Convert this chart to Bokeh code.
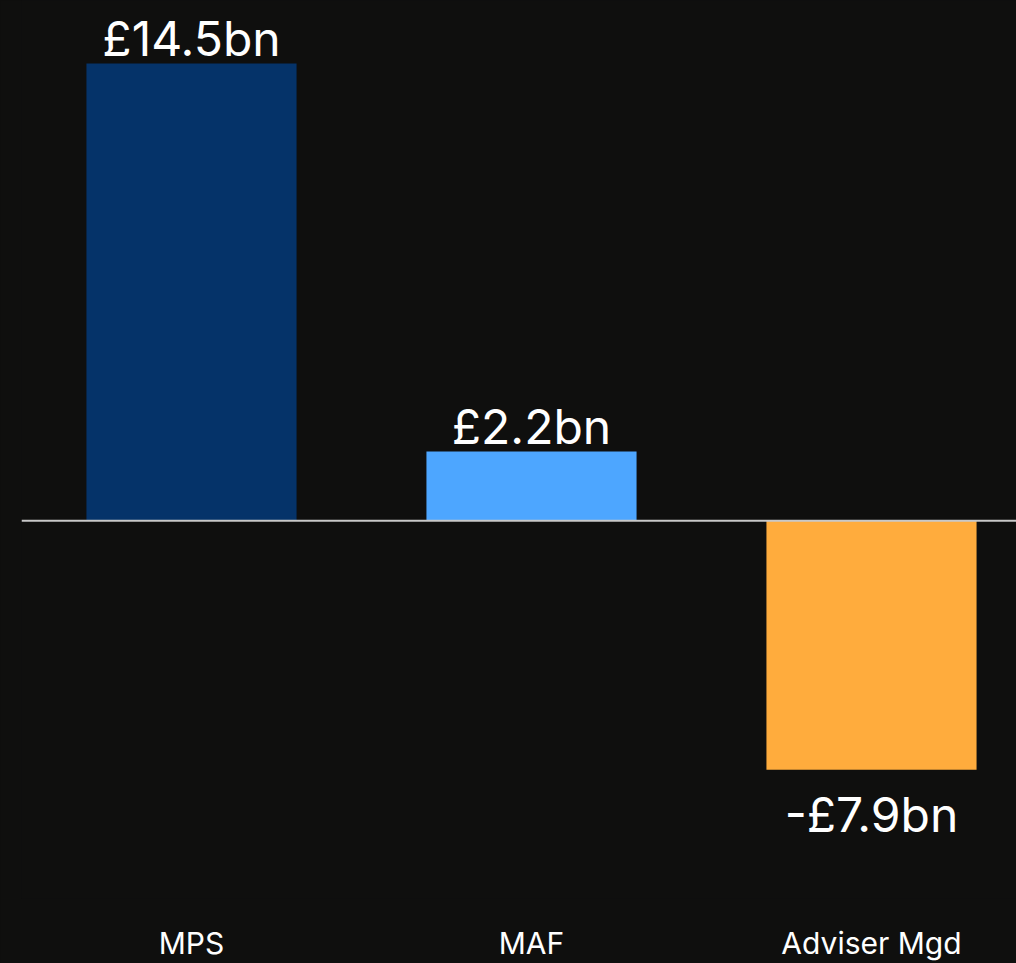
from bokeh.plotting import figure
from bokeh.models import ColumnDataSource, Range1d, Span, FixedTicker, GlobalInlineStyleSheet
from bokeh.core.properties import value
from bokeh.embed import file_html
from bokeh.resources import INLINE

categories = ["MPS", "MAF", "Adviser Mgd"]
values = [14.5, 2.2, -7.9]
labels = ["£14.5bn", "£2.2bn", "-£7.9bn"]
colors = ["#053369", "#4da6ff", "#ffac3d"]

BG = "#0f0f0e"
FONT = "Inter"

xs = [i + 0.5 for i in range(len(categories))]
offsets = [-25 if v >= 0 else 45 for v in values]

src = ColumnDataSource(dict(x=xs, top=values, label=labels, color=colors, yoff=offsets))

p = figure(width=1016, height=963, output_backend="svg", toolbar_location=None,
           x_range=Range1d(0, 995 / 340), y_range=Range1d(-11.98, 16.5),
           min_border_left=21, min_border_right=0, min_border_top=0, min_border_bottom=63,
           background_fill_color=BG, border_fill_color=BG, outline_line_color=None)

p.vbar(x="x", top="top", bottom=0, width=0.618, fill_color="color", line_color=None, source=src)

p.text(x="x", y="top", text="label", source=src, y_offset="yoff",
       text_align="center", text_baseline="alphabetic",
       text_font=value(FONT), text_font_size="48px", text_color="#ffffff")

p.add_layout(Span(location=0, dimension="width", line_color="#c8c8c8", line_width=2))

p.xgrid.visible = False
p.ygrid.visible = False
p.yaxis.visible = False

ax = p.xaxis[0]
ax.ticker = FixedTicker(ticks=xs)
ax.major_label_overrides = {x: c for x, c in zip(xs, categories)}
ax.axis_line_color = None
ax.major_tick_line_color = None
ax.minor_tick_line_color = None
ax.major_tick_out = 0
ax.major_tick_in = 0
ax.major_label_standoff = 26
ax.major_label_text_font = FONT
ax.major_label_text_font_size = "30px"
ax.major_label_text_color = "#ffffff"

p.stylesheets = [GlobalInlineStyleSheet(css=f"body {{ background: {BG}; }}")]

open("out.html", "w").write(file_html(p, INLINE))
